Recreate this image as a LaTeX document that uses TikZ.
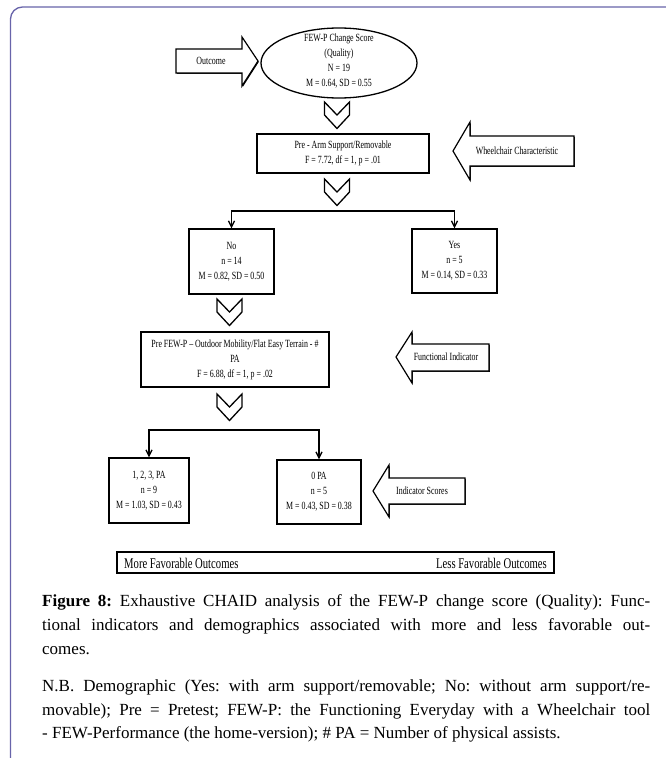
\documentclass[tikz,border=0pt]{standalone}
\usepackage{fontspec}
\setmainfont{Liberation Serif}
\newfontfamily\diagfont[FakeStretch=0.72]{Liberation Serif}
\usetikzlibrary{shapes.geometric,arrows.meta,shadows,calc}
\definecolor{framec}{RGB}{104,100,170}
\frenchspacing
\begin{document}
\begin{tikzpicture}[x=1pt,y=-1pt,
  dtext/.style={font=\diagfont\fontsize{11}{15}\selectfont, align=center, inner sep=0},
  boxsh/.style={general shadow={fill=black, shadow xshift=0.8pt, shadow yshift=-0.9pt}},
  box/.style={draw, line width=1.2pt, fill=white, inner sep=0, align=center,
    font=\diagfont\fontsize{11}{15}\selectfont, boxsh},
  blockarrow/.style={draw, line width=1.2pt, fill=white, line join=miter, boxsh},
  chevshape/.style={draw, line width=1.3pt, fill=white, line join=miter},
  conn/.style={line width=1.4pt, -{Straight Barb[length=6pt,width=6pt]}},
  captext/.style={anchor=base west, inner sep=0, font=\fontsize{17}{24}\selectfont},
  chev/.pic={\path[chevshape] (-12.5,0) -- (0,13) -- (12.5,0) -- (12.5,13) -- (0,26.5) -- (-12.5,13) -- cycle;}
]
\useasboundingbox (0,0) rectangle (665,758);
\fill[white] (0,0) rectangle (665,758);

% frame
\draw[framec, line width=1.3pt, rounded corners=12] (10.5,760) -- (10.5,7) -- (670,7);

% root ellipse
\node[ellipse, draw, line width=1.3pt, fill=white, minimum width=156, minimum height=70, inner sep=0] (root) at (339,63) {};
\node[dtext] (roottxt) at (339,61) {FEW-P Change Score\\(Quality)\\N = 19\\M = 0.64, SD = 0.55};

% outcome arrow
\path[blockarrow] (176,49) -- (242,49) -- (242,37) -- (258,61) -- (242,86) -- (242,73) -- (176,73) -- cycle;
\node[dtext] (outcome) at (211,61) {Outcome};

% chevron 1
\pic at (337,102) {chev};

% box 1
\node[box, minimum width=172, minimum height=39] (box1) at (343,153.5) {Pre - Arm Support/Removable\\F = 7.72, df = 1, p = .01};

% wheelchair arrow
\path[blockarrow] (574,136) -- (470,136) -- (470,122) -- (453,151) -- (470,180) -- (470,166) -- (574,166) -- cycle;
\node[dtext] (wheel) at (517,151) {Wheelchair Characteristic};

% chevron 2
\pic at (337,179) {chev};

% split 1
\node[box, minimum width=85, minimum height=65] (no) at (231.5,261.5) {No\\n = 14\\M = 0.82, SD = 0.50};
\node[box, minimum width=85, minimum height=64] (yes) at (454.5,261) {Yes\\n = 5\\M = 0.14, SD = 0.33};
\coordinate (j1) at (343,211);
\draw[conn] (j1) -| (no.north);
\draw[conn] (j1) -| (yes.north);

% chevron 3
\pic at (229.5,299) {chev};

% box 3
\node[box, minimum width=188, minimum height=55] (box3) at (235,359.5) {Pre FEW-P \textendash{} Outdoor Mobility/Flat Easy Terrain - \#\\PA\\F = 6.88, df = 1, p = .02};

% functional indicator arrow
\path[blockarrow] (489,344) -- (412,344) -- (412,332) -- (396,357) -- (412,383) -- (412,371) -- (489,371) -- cycle;
\node[dtext] (func) at (446,357) {Functional Indicator};

% chevron 4
\pic at (229.5,394) {chev};

% split 2
\node[box, minimum width=80, minimum height=65] (b123) at (149,490.5) {1, 2, 3, PA\\n = 9\\M = 1.03, SD = 0.43};
\node[box, minimum width=84, minimum height=64] (b0) at (319,492) {0 PA\\n = 5\\M = 0.43, SD = 0.38};
\coordinate (j2) at (233.5,430);
\draw[conn] (j2) -| (b123.north);
\draw[conn] (j2) -| (b0.north);

% indicator scores arrow
\path[blockarrow] (465,478) -- (389,478) -- (389,465) -- (373,491) -- (389,517) -- (389,504) -- (465,504) -- cycle;
\node[dtext] (indsc) at (422,491) {Indicator Scores};

% bottom bar
\node[box, minimum width=437, minimum height=21] (bar) at (335.5,562.5) {};
\node[dtext, anchor=west, font=\diagfont\fontsize{14.8}{16}\selectfont] (more) at (124,563) {More Favorable Outcomes};
\node[dtext, anchor=east, font=\diagfont\fontsize{14.8}{16}\selectfont] (less) at (547,563) {Less Favorable Outcomes};

% caption
\node[captext] (cap1) at (42,606) {\makebox[608pt][s]{\textbf{Figure 8:} Exhaustive CHAID analysis of the FEW-P change score (Quality): Func-}};
\node[captext] (cap2) at (42,630) {\makebox[608pt][s]{tional indicators and demographics associated with more and less favorable out-}};
\node[captext] (cap3) at (42,654) {comes.};
\node[captext] (nb1) at (42,691) {\makebox[608pt][s]{N.B. Demographic (Yes: with arm support/removable; No: without arm support/re-}};
\node[captext] (nb2) at (42,715) {\makebox[608pt][s]{movable); Pre = Pretest; FEW-P: the Functioning Everyday with a Wheelchair tool}};
\node[captext] (nb3) at (42,738) {- FEW-Performance (the home-version); \# PA = Number of physical assists.};
\end{tikzpicture}
\end{document}
